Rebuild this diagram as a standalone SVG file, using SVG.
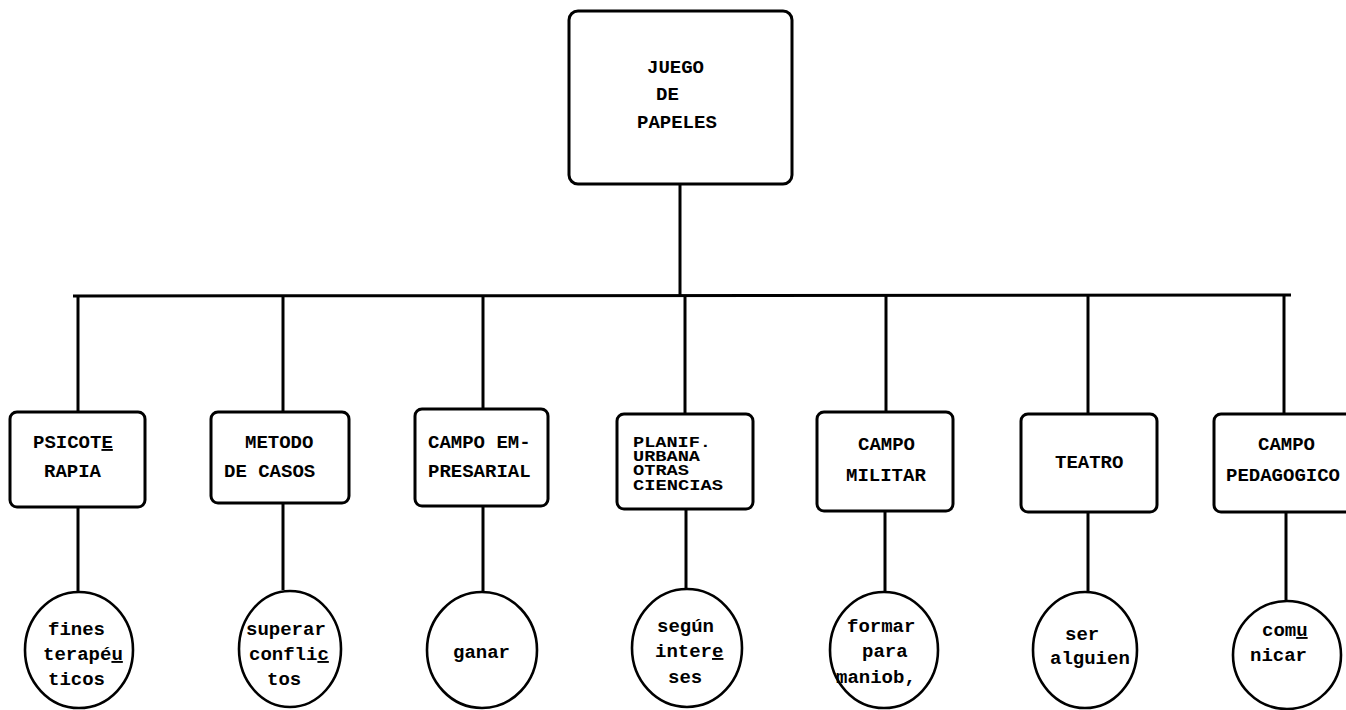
<svg xmlns="http://www.w3.org/2000/svg" width="1346" height="710" viewBox="0 0 1346 710">
<style>
.bx{fill:#fff;stroke:#000;stroke-width:3}
.ci{fill:#fff;stroke:#000;stroke-width:2.6}
.ln{stroke:#000;stroke-width:3;fill:none}
text{font-family:"Liberation Mono","DejaVu Sans Mono",monospace;font-weight:bold;font-size:19px;fill:#000}
.sm{font-size:14px}
.u{text-decoration:underline}
</style>
<rect width="1346" height="710" fill="#fff"/>
<g id="connectors">
<line class="ln" x1="680" y1="184" x2="680" y2="296"/>
<line class="ln" x1="73" y1="296" x2="1291" y2="295"/>
<line class="ln" x1="78" y1="296" x2="78" y2="412"/>
<line class="ln" x1="283" y1="296" x2="283" y2="412"/>
<line class="ln" x1="483" y1="296" x2="483" y2="409"/>
<line class="ln" x1="685" y1="296" x2="685" y2="414"/>
<line class="ln" x1="886" y1="296" x2="886" y2="412"/>
<line class="ln" x1="1088" y1="296" x2="1088" y2="414"/>
<line class="ln" x1="1284" y1="295" x2="1284" y2="414"/>
<line class="ln" x1="78" y1="507" x2="78" y2="592"/>
<line class="ln" x1="283" y1="503" x2="283" y2="590"/>
<line class="ln" x1="483" y1="506" x2="483" y2="591"/>
<line class="ln" x1="686" y1="509" x2="686" y2="588"/>
<line class="ln" x1="885" y1="511" x2="885" y2="592"/>
<line class="ln" x1="1088" y1="512" x2="1088" y2="592"/>
<line class="ln" x1="1286" y1="512" x2="1286" y2="600"/>
</g>
<g id="root">
<rect class="bx" x="569" y="11" width="223" height="173" rx="9"/>
<text x="647" y="73">JUEGO</text>
<text x="656" y="100">DE</text>
<text x="637" y="128">PAPELES</text>
</g>
<g id="n1">
<rect class="bx" x="10" y="412" width="135" height="95" rx="7"/>
<text x="33" y="448">PSICOT<tspan class="u">E</tspan></text>
<text x="44" y="477">RAPIA</text>
</g>
<g id="n2">
<rect class="bx" x="211" y="412" width="138" height="91" rx="7"/>
<text x="245" y="448">METODO</text>
<text x="224" y="477">DE CASOS</text>
</g>
<g id="n3">
<rect class="bx" x="415" y="409" width="133" height="97" rx="7"/>
<text x="428" y="448">CAMPO EM-</text>
<text x="428" y="477">PRESARIAL</text>
</g>
<g id="n4">
<rect class="bx" x="617" y="414" width="136" height="95" rx="7"/>
<text class="sm" x="633" y="447" textLength="78" lengthAdjust="spacingAndGlyphs">PLANIF.</text>
<text class="sm" x="633" y="461" textLength="67" lengthAdjust="spacingAndGlyphs">URBANA</text>
<text class="sm" x="633" y="475" textLength="56" lengthAdjust="spacingAndGlyphs">OTRAS</text>
<text class="sm" x="633" y="490" textLength="90" lengthAdjust="spacingAndGlyphs">CIENCIAS</text>
</g>
<g id="n5">
<rect class="bx" x="817" y="412" width="136" height="99" rx="7"/>
<text x="858" y="450">CAMPO</text>
<text x="846" y="481">MILITAR</text>
</g>
<g id="n6">
<rect class="bx" x="1021" y="414" width="136" height="98" rx="7"/>
<text x="1055" y="468">TEATRO</text>
</g>
<g id="n7">
<rect class="bx" x="1214" y="414" width="140" height="98" rx="7"/>
<text x="1258" y="450">CAMPO</text>
<text x="1226" y="481">PEDAGOGICO</text>
</g>
<g id="c1">
<ellipse class="ci" cx="79" cy="650" rx="54" ry="58"/>
<text x="48" y="635">fines</text>
<text x="43" y="660">terapé<tspan class="u">u</tspan></text>
<text x="48" y="685">ticos</text>
</g>
<g id="c2">
<ellipse class="ci" cx="290" cy="649" rx="51" ry="58"/>
<text x="246" y="635">superar</text>
<text x="249" y="660">confli<tspan class="u">c</tspan></text>
<text x="267" y="685">tos</text>
</g>
<g id="c3">
<ellipse class="ci" cx="482" cy="650" rx="55" ry="58"/>
<text x="453" y="658">ganar</text>
</g>
<g id="c4">
<ellipse class="ci" cx="687" cy="648" rx="55" ry="59"/>
<text x="657" y="632">según</text>
<text x="655" y="657">inter<tspan class="u">e</tspan></text>
<text x="668" y="683">ses</text>
</g>
<g id="c5">
<ellipse class="ci" cx="884" cy="650" rx="54" ry="58"/>
<text x="847" y="632">formar</text>
<text x="862" y="657">para</text>
<text x="836" y="683">maniob,</text>
</g>
<g id="c6">
<ellipse class="ci" cx="1085" cy="650" rx="52" ry="58"/>
<text x="1065" y="640">ser</text>
<text x="1050" y="664">alguien</text>
</g>
<g id="c7">
<ellipse class="ci" cx="1287" cy="655" rx="54" ry="54"/>
<text x="1262" y="636">com<tspan class="u">u</tspan></text>
<text x="1250" y="661">nicar</text>
</g>
</svg>
